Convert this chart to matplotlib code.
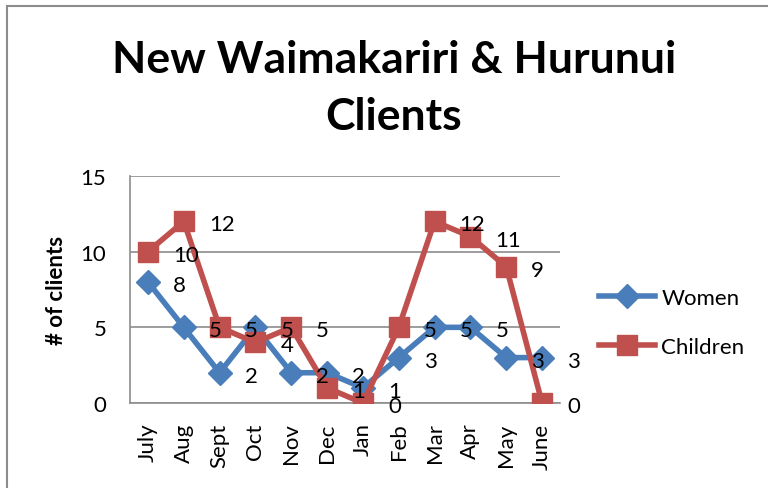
import matplotlib
matplotlib.use("Agg")
import matplotlib.pyplot as plt
from matplotlib.patches import Rectangle

months = ["July", "Aug", "Sept", "Oct", "Nov", "Dec", "Jan", "Feb", "Mar", "Apr", "May", "June"]
women = [8, 5, 2, 5, 2, 2, 1, 3, 5, 5, 3, 3]
children = [10, 12, 5, 4, 5, 1, 0, 5, 12, 11, 9, 0]

plt.rcParams['font.family'] = ['Lato', 'DejaVu Sans']

fig = plt.figure(figsize=(7.68, 4.89), dpi=100)
W, H = 768, 489

# outer chart frame (runs off the right and bottom edges)
fig.patches.append(Rectangle((7 / W, -0.2), 1.2, 1.2 - 7 / H, transform=fig.transFigure,
                             fill=False, edgecolor='#8c8c8c', linewidth=1.5))

ax = fig.add_axes([130 / W, 1 - 404 / H, 430 / W, (404 - 177) / H])

blue = '#4a7ebb'
red = '#c0504d'
x = list(range(len(months)))

ax.plot(x, women, color=blue, lw=4, marker='D', ms=12, label='Women', zorder=3)
ax.plot(x, children, color=red, lw=4, marker='s', ms=14, label='Children', zorder=4)

for xi, v in zip(x, women):
    ax.annotate(str(v), (xi, v), xytext=(25, -3), textcoords='offset pixels',
                ha='left', va='center', fontsize=16, color='black', zorder=5)
for xi, v in zip(x, children):
    ax.annotate(str(v), (xi, v), xytext=(25, -3), textcoords='offset pixels',
                ha='left', va='center', fontsize=16, color='black', zorder=5)

ax.set_xlim(-0.5, len(months) - 0.5)
ax.set_ylim(0, 15)
ax.set_yticks([0, 5, 10, 15])
ax.set_xticks(x)
ax.set_xticklabels(months, rotation=90, fontsize=16)
ax.tick_params(axis='y', labelsize=16, length=0, pad=17)
ax.tick_params(axis='x', length=0, pad=14)
ax.yaxis.grid(True, color='#8c8c8c', lw=1.2)
ax.set_axisbelow(True)
for s in ['top', 'right']:
    ax.spines[s].set_visible(False)
for s in ['left', 'bottom']:
    ax.spines[s].set_color('#8c8c8c')
    ax.spines[s].set_linewidth(1.2)
ax.set_ylabel('# of clients', fontsize=16, fontweight='bold', labelpad=10)

fig.text(394 / W, 1 - 60 / H, 'New Waimakariri & Hurunui', ha='center', va='center',
         fontsize=32, fontweight='bold')
fig.text(394 / W, 1 - 117 / H, 'Clients', ha='center', va='center',
         fontsize=32, fontweight='bold')

fig.legend(loc='upper left', bbox_to_anchor=(588 / W, 1 - 278 / H), frameon=False,
           fontsize=16, handlelength=2.5, labelspacing=1.3, handletextpad=0.3,
           borderpad=0)

fig.savefig('out.png', dpi=100)
